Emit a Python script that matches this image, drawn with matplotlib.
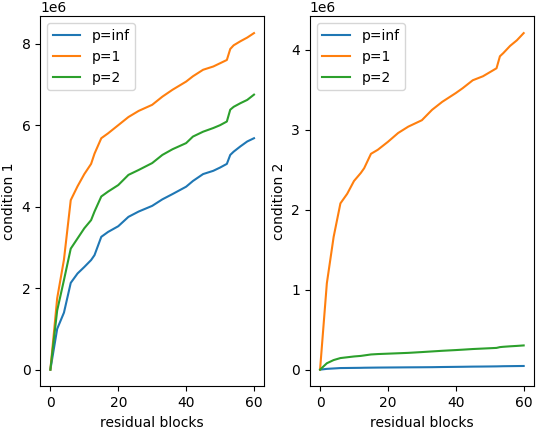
import matplotlib
matplotlib.use("Agg")
import matplotlib.pyplot as plt
import numpy as np

blocks = [0, 2, 4, 6, 8, 10, 12, 13, 15, 17, 20, 23, 26, 30, 33, 36, 40, 42, 45, 48, 50, 52, 53, 54, 56, 58, 60]

# condition 1 (in 1e6)
c1_inf = [0, 1.0, 1.4, 2.13, 2.36, 2.52, 2.69, 2.81, 3.26, 3.38, 3.52, 3.75, 3.88, 4.02, 4.18, 4.31, 4.49, 4.63, 4.8, 4.88, 4.96, 5.05, 5.27, 5.35, 5.48, 5.6, 5.68]
c1_p1 = [0, 1.75, 2.7, 4.16, 4.5, 4.8, 5.05, 5.3, 5.68, 5.8, 6.0, 6.2, 6.35, 6.5, 6.7, 6.87, 7.07, 7.2, 7.36, 7.44, 7.52, 7.6, 7.87, 7.96, 8.06, 8.15, 8.26]
c1_p2 = [0, 1.45, 2.2, 2.97, 3.22, 3.47, 3.67, 3.88, 4.25, 4.37, 4.53, 4.78, 4.9, 5.07, 5.27, 5.41, 5.56, 5.72, 5.84, 5.93, 6.0, 6.09, 6.38, 6.45, 6.54, 6.62, 6.75]

# condition 2 (in 1e6)
c2_inf = [0, 0.01, 0.015, 0.02, 0.021, 0.022, 0.023, 0.024, 0.025, 0.026, 0.027, 0.028, 0.029, 0.03, 0.031, 0.033, 0.035, 0.036, 0.038, 0.039, 0.04, 0.041, 0.042, 0.043, 0.044, 0.045, 0.046]
c2_p1 = [0, 1.08, 1.66, 2.08, 2.2, 2.36, 2.46, 2.52, 2.70, 2.75, 2.85, 2.96, 3.04, 3.12, 3.25, 3.35, 3.46, 3.52, 3.62, 3.67, 3.72, 3.77, 3.92, 3.96, 4.05, 4.12, 4.21]
c2_p2 = [0, 0.08, 0.12, 0.145, 0.155, 0.165, 0.172, 0.178, 0.19, 0.195, 0.2, 0.205, 0.21, 0.22, 0.228, 0.236, 0.245, 0.25, 0.258, 0.264, 0.268, 0.272, 0.282, 0.286, 0.292, 0.297, 0.303]

labels = ["p=inf", "p=1", "p=2"]

fig, axes = plt.subplots(1, 2, figsize=(5.36, 4.28), dpi=100)
fig.subplots_adjust(left=0.075, right=0.996, top=0.962, bottom=0.097, wspace=0.204)

for ax, series, ylabel in [
    (axes[0], [c1_inf, c1_p1, c1_p2], "condition 1"),
    (axes[1], [c2_inf, c2_p1, c2_p2], "condition 2"),
]:
    for vals, lab in zip(series, labels):
        ax.plot(blocks, np.array(vals) * 1e6, label=lab)
    ax.set_xlabel("residual blocks")
    ax.set_ylabel(ylabel)
    ax.legend(loc="upper left")

plt.savefig("out.png")
